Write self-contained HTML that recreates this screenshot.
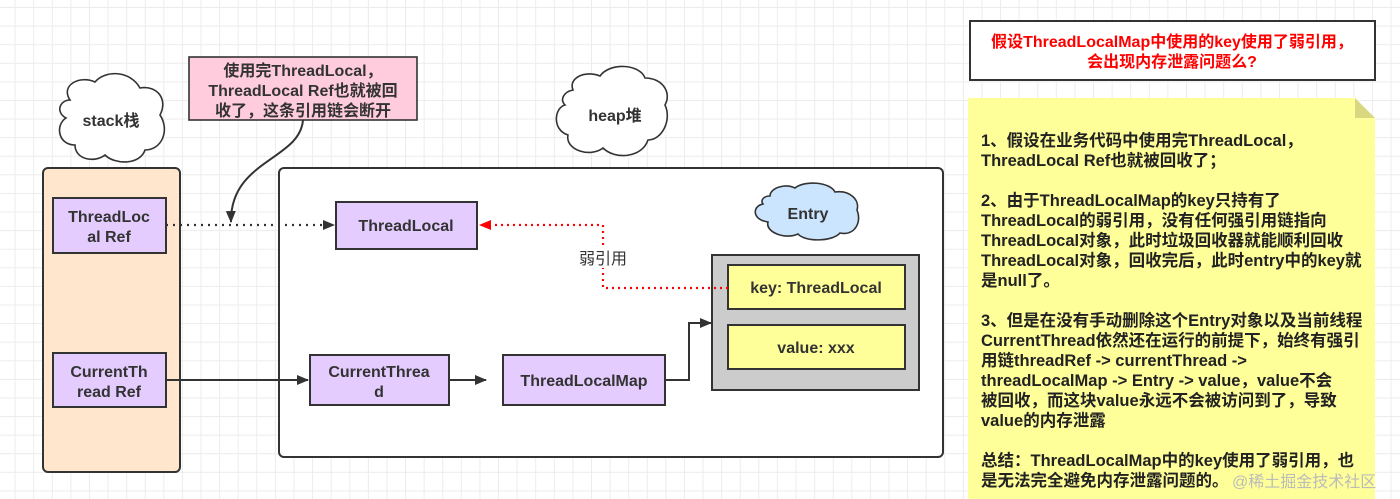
<!DOCTYPE html>
<html><head><meta charset="utf-8">
<style>
body{margin:0;width:1400px;height:499px;overflow:hidden;background:#fff;
background-image:linear-gradient(#ececec 1px,transparent 1px),linear-gradient(90deg,#ececec 1px,transparent 1px);
background-size:18.6px 18.6px;background-position:-4px 7px;
font-family:"Liberation Sans","Noto Sans CJK SC",sans-serif;}
svg{position:absolute;left:0;top:0}
.t{font-weight:bold;font-size:16px;fill:#333}
</style></head><body>
<svg width="1400" height="499" viewBox="0 0 1400 499">
<defs>
<marker id="a" markerWidth="12" markerHeight="12" refX="11" refY="6" orient="auto" markerUnits="userSpaceOnUse"><path d="M0,1 L12,6 L0,11 Z" fill="#333"/></marker>
<marker id="r" markerWidth="12" markerHeight="12" refX="11" refY="6" orient="auto" markerUnits="userSpaceOnUse"><path d="M0,1 L12,6 L0,11 Z" fill="#f00"/></marker>
</defs>
<rect x="43" y="168" width="137" height="304" rx="5" fill="#ffe6cc" stroke="#333" stroke-width="2"/>
<rect x="279" y="168" width="664" height="289" rx="5" fill="#fff" stroke="#333" stroke-width="2"/>
<path d="M70,100 C60,85 80,75 95,82 C105,70 130,70 140,88 C158,85 168,100 160,115 C170,130 162,150 145,150 C140,165 115,165 105,155 C95,163 75,160 75,145 C58,145 55,125 66,118 C55,112 60,100 70,100 Z" fill="#fff" stroke="#333" stroke-width="1.6"/>
<text x="111" y="126" class="t" text-anchor="middle" font-size="14">stack栈</text>
<path d="M573,90 C568,78 585,70 600,76 C610,62 640,64 645,78 C662,78 672,92 665,105 C672,120 662,140 648,140 C642,158 615,160 603,148 C590,158 565,150 568,135 C552,130 554,108 565,105 C560,100 563,92 573,90 Z" fill="#fff" stroke="#333" stroke-width="1.6"/>
<text x="615" y="121" class="t" text-anchor="middle" font-size="14">heap堆</text>
<path d="M770,196 C770,188 785,183 795,188 C805,180 830,182 835,192 C850,190 860,200 857,210 C862,222 855,236 840,233 C832,242 805,242 798,234 C785,240 765,232 768,222 C752,220 752,206 763,204 C760,200 764,196 770,196 Z" fill="#cce5ff" stroke="#333" stroke-width="1.6"/>
<text x="808" y="219" class="t" text-anchor="middle" font-size="15">Entry</text>
<rect x="189" y="57" width="228" height="63" fill="#ffccdd" stroke="#333" stroke-width="1.6"/>
<text x="303" y="76" class="t" text-anchor="middle">使用完ThreadLocal，</text>
<text x="303" y="96" class="t" text-anchor="middle">ThreadLocal Ref也就被回</text>
<text x="303" y="116" class="t" text-anchor="middle">收了，这条引用链会断开</text>
<path d="M303,120 C300,160 230,160 231,222" fill="none" stroke="#333" stroke-width="2" marker-end="url(#a)"/>
<rect x="53" y="198" width="113" height="55" fill="#e5ccff" stroke="#333" stroke-width="2"/>
<text x="109" y="222" class="t" text-anchor="middle">ThreadLoc</text>
<text x="109" y="242" class="t" text-anchor="middle">al Ref</text>
<rect x="53" y="353" width="113" height="54" fill="#e5ccff" stroke="#333" stroke-width="2"/>
<text x="109" y="377" class="t" text-anchor="middle">CurrentTh</text>
<text x="109" y="397" class="t" text-anchor="middle">read Ref</text>
<rect x="336" y="202" width="141" height="47" fill="#e5ccff" stroke="#333" stroke-width="2"/>
<text x="406" y="231" class="t" text-anchor="middle">ThreadLocal</text>
<rect x="310" y="355" width="139" height="50" fill="#e5ccff" stroke="#333" stroke-width="2"/>
<text x="379" y="377" class="t" text-anchor="middle">CurrentThrea</text>
<text x="379" y="397" class="t" text-anchor="middle">d</text>
<rect x="503" y="355" width="162" height="50" fill="#e5ccff" stroke="#333" stroke-width="2"/>
<text x="584" y="386" class="t" text-anchor="middle">ThreadLocalMap</text>
<rect x="712" y="255" width="207" height="135" fill="#ccc" stroke="#333" stroke-width="2"/>
<rect x="728" y="265" width="177" height="44" fill="#ffff99" stroke="#333" stroke-width="2"/>
<text x="816" y="293" class="t" text-anchor="middle">key: ThreadLocal</text>
<rect x="728" y="325" width="177" height="44" fill="#ffff99" stroke="#333" stroke-width="2"/>
<text x="816" y="353" class="t" text-anchor="middle">value: xxx</text>
<line x1="166" y1="225" x2="334" y2="225" stroke="#333" stroke-width="2.2" stroke-dasharray="2,5" marker-end="url(#a)"/>
<line x1="166" y1="380" x2="308" y2="380" stroke="#333" stroke-width="2" marker-end="url(#a)"/>
<line x1="449" y1="380" x2="486" y2="380" stroke="#333" stroke-width="2" marker-end="url(#a)"/>
<polyline points="665,380 689,380 689,323 711,323" fill="none" stroke="#333" stroke-width="2" marker-end="url(#a)"/>
<polyline points="728,288 603,288 603,225 480,225" fill="none" stroke="#f00" stroke-width="2.2" stroke-dasharray="2,4" marker-end="url(#r)"/>
<rect x="576" y="248" width="54" height="20" fill="#fff"/>
<text x="603" y="264" font-size="16" fill="#333" text-anchor="middle">弱引用</text>
<rect x="970" y="21" width="405" height="59" fill="#fff" stroke="#333" stroke-width="2"/>
<text x="1172" y="47" class="t" style="fill:#f00" text-anchor="middle">假设ThreadLocalMap中使用的key使用了弱引用，</text>
<text x="1172" y="67" class="t" style="fill:#f00" text-anchor="middle">会出现内存泄露问题么?</text>
<path d="M968,98 L1355,98 L1375,118 L1375,499 L968,499 Z" fill="#ffff99"/>
<path d="M1355,98 L1355,118 L1375,118 Z" fill="#d8d880"/>
<g class="t" style="font-size:16.5px;fill:#222">
<text x="981" y="146">1、假设在业务代码中使用完ThreadLocal，</text>
<text x="981" y="166">ThreadLocal Ref也就被回收了；</text>
<text x="981" y="206">2、由于ThreadLocalMap的key只持有了</text>
<text x="981" y="226">ThreadLocal的弱引用，没有任何强引用链指向</text>
<text x="981" y="246">ThreadLocal对象，此时垃圾回收器就能顺利回收</text>
<text x="981" y="266">ThreadLocal对象，回收完后，此时entry中的key就</text>
<text x="981" y="286">是null了。</text>
<text x="981" y="326">3、但是在没有手动删除这个Entry对象以及当前线程</text>
<text x="981" y="346">CurrentThread依然还在运行的前提下，始终有强引</text>
<text x="981" y="366">用链threadRef -&gt;  currentThread -&gt;</text>
<text x="981" y="386">threadLocalMap -&gt; Entry -&gt; value，value不会</text>
<text x="981" y="406">被回收，而这块value永远不会被访问到了，导致</text>
<text x="981" y="426">value的内存泄露</text>
<text x="981" y="466">总结：ThreadLocalMap中的key使用了弱引用，也</text>
<text x="981" y="486">是无法完全避免内存泄露问题的。</text>
</g>
<text x="1232" y="487" font-size="16" fill="#bbb">@稀土掘金技术社区</text>
</svg>
</body></html>
